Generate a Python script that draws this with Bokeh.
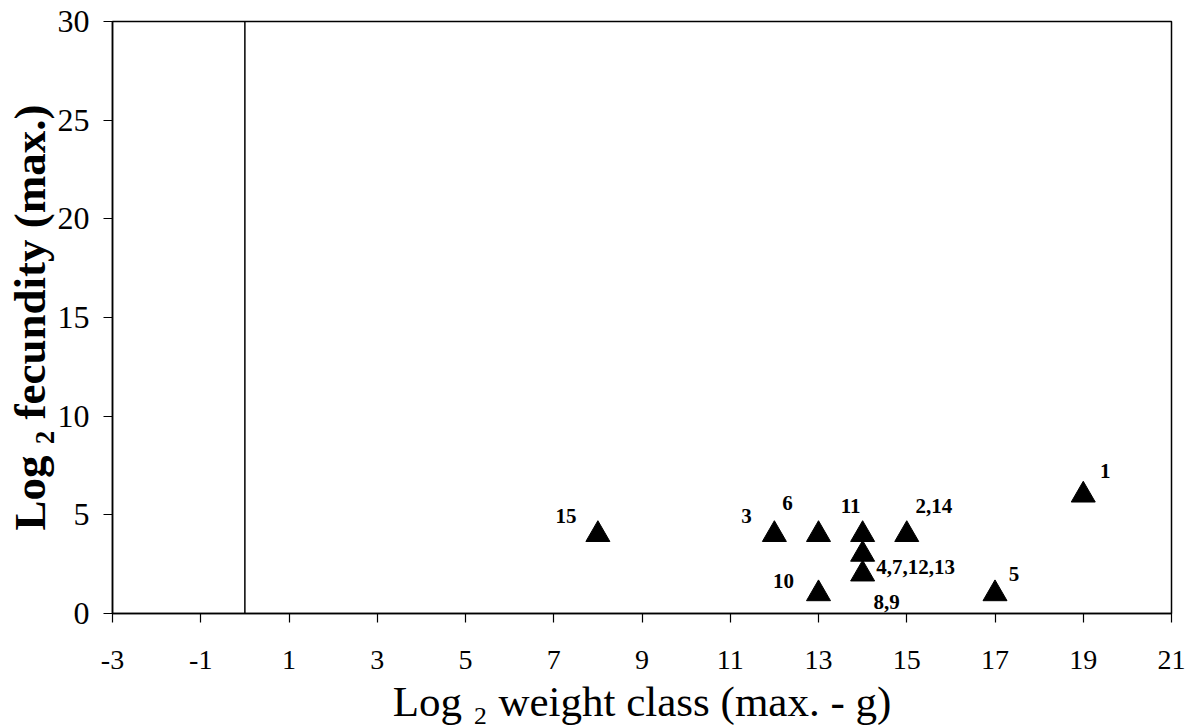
from bokeh.core.properties import value
from bokeh.embed import file_html
from bokeh.models import ColumnDataSource, FixedTicker, Range1d, Span
from bokeh.plotting import figure
from bokeh.resources import INLINE

# Species groups: log2 of maximum weight class (g) vs log2 of maximum fecundity
weight_class = [19, 15, 12, 14, 17, 13, 14, 14, 13, 8]
fecundity = [6, 4, 4, 3, 1, 4, 2, 4, 1, 4]
point_labels = ["1", "2,14", "3", "4,7,12,13", "5", "6", "8,9", "11", "10", "15"]

# pixel offsets of each number label from its triangle (screen, y down)
label_dx = [22, 27, -28, 53, 19, -31, 24, -12, -35, -32]
label_dy = [-24, -29, -19, 13, -20, -32, 28, -29, -13, -19]

x_ticks = list(range(-3, 22, 2))
y_ticks = [0, 5, 10, 15, 20, 25, 30]

x_title = "Log \u2082 weight class (max. - g)"
y_title = "Log \u2082 fecundity (max.)"

SERIF = "Liberation Serif"

p = figure(
    width=1191, height=728,
    x_range=Range1d(-3, 21), y_range=Range1d(0, 30),
    output_backend="svg", toolbar_location=None,
    min_border_left=112, min_border_right=20,
    min_border_top=21, min_border_bottom=115,
    background_fill_color="white", border_fill_color="white",
)

p.xgrid.grid_line_color = None
p.ygrid.grid_line_color = None
p.outline_line_color = "black"
p.outline_line_width = 1.5

p.xaxis.ticker = FixedTicker(ticks=x_ticks)
p.yaxis.ticker = FixedTicker(ticks=y_ticks)
# plain hyphen for negative tick values
p.xaxis.major_label_overrides = {t: str(t) for t in x_ticks}

for ax in (p.xaxis, p.yaxis):
    ax.minor_tick_line_color = None
    ax.major_tick_in = 0
    ax.major_tick_out = 9
    ax.major_tick_line_color = "black"
    ax.major_tick_line_width = 1.2
    ax.axis_line_color = "black"
    ax.axis_line_width = 1.5
    ax.major_label_text_font = SERIF
    ax.major_label_text_color = "black"
    ax.axis_label_text_font = SERIF
    ax.axis_label_text_color = "black"

p.xaxis.major_label_text_font_size = "28px"
p.xaxis.major_label_standoff = 28
p.xaxis.axis_label = x_title
p.xaxis.axis_label_text_font_size = "43px"
p.xaxis.axis_label_text_font_style = "normal"
p.xaxis.axis_label_standoff = 6

p.yaxis.major_label_text_font_size = "32px"
p.yaxis.major_label_standoff = 14
p.yaxis.axis_label = y_title
p.yaxis.axis_label_text_font_size = "45px"
p.yaxis.axis_label_text_font_style = "bold"
p.yaxis.axis_label_standoff = 0

# vertical reference line at log2 weight = 0
p.add_layout(Span(location=0, dimension="height", line_color="black", line_width=1.5))

src = ColumnDataSource(dict(
    x=weight_class, y=fecundity, label=point_labels, dx=label_dx, dy=label_dy,
))

p.scatter("x", "y", source=src, marker="triangle", size=24,
          fill_color="black", line_color="black", line_width=1)

p.text("x", "y", text="label", x_offset="dx", y_offset="dy", source=src,
       text_font=value(SERIF), text_font_size=value("21px"),
       text_font_style="bold", text_color="black",
       text_align="center", text_baseline="middle")

open("out.html", "w").write(file_html(p, INLINE))
